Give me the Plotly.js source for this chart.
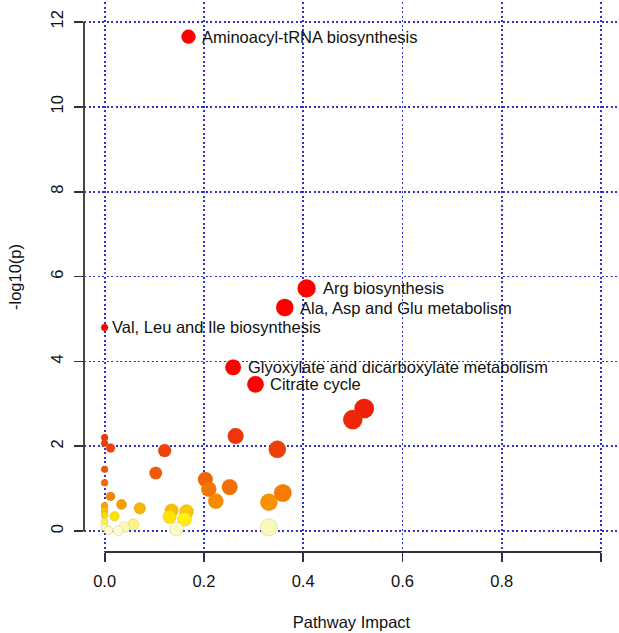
<!DOCTYPE html>
<html>
<head>
<meta charset="utf-8">
<script src="https://cdn.plot.ly/plotly-3.0.1.min.js"></script>
<style>html,body{margin:0;padding:0;background:#fff;}#chart{width:619px;height:633px;}</style>
</head>
<body>
<div id="chart"></div>
<script>
// Pathway impact (x) and -log10(p) (y), ordered by decreasing -log10(p)
const impact = [0.169, 0.407, 0.363, 0.0, 0.259, 0.304,
  0.523, 0.500, 0.264, 0.0, 0.0, 0.012, 0.348, 0.121, 0.0, 0.103,
  0.203, 0.0, 0.252, 0.210, 0.359, 0.012, 0.224, 0.331, 0.034, 0.0,
  0.071, 0.135, 0.0, 0.165, 0.0, 0.131, 0.020, 0.161, 0.0, 0.058,
  0.040, 0.331, 0.0, 0.145, 0.008, 0.028];
const logp = [11.65, 5.72, 5.27, 4.80, 3.86, 3.46,
  2.89, 2.63, 2.24, 2.21, 2.07, 1.96, 1.93, 1.90, 1.46, 1.37,
  1.22, 1.14, 1.04, 0.99, 0.90, 0.82, 0.71, 0.68, 0.63, 0.60,
  0.54, 0.49, 0.48, 0.46, 0.38, 0.34, 0.35, 0.28, 0.22, 0.16,
  0.10, 0.09, 0.09, 0.05, 0.02, 0.01];
const labels = ["Aminoacyl-tRNA biosynthesis", "Arg biosynthesis",
  "Ala, Asp and Glu metabolism", "Val, Leu and Ile biosynthesis",
  "Glyoxylate and dicarboxylate metabolism", "Citrate cycle"];
const xTickVals = [0, 0.2, 0.4, 0.6, 0.8, 1.0];
const xTickText = ["0.0", "0.2", "0.4", "0.6", "0.8", ""];
const yTickVals = [0, 2, 4, 6, 8, 10, 12];

const FONT = "Liberation Sans, Arial, sans-serif";
const sizes = impact.map(v => 7 + 17.5 * Math.sqrt(v));

const cmax = 3.5;
const stops = [[0, 'rgb(252,252,215)'], [0.1, 'rgb(250,250,180)'], [0.3, 'rgb(255,238,0)'],
  [0.5, 'rgb(250,190,0)'], [0.7, 'rgb(250,140,0)'], [1.0, 'rgb(245,115,5)'],
  [1.4, 'rgb(238,88,10)'], [2.0, 'rgb(238,62,10)'], [3.0, 'rgb(240,25,10)'], [3.5, 'rgb(255,0,0)']];
const colorscale = stops.map(s => [s[0] / cmax, s[1]]);

const trace = {
  x: impact, y: logp, type: 'scatter', mode: 'markers',
  marker: {
    size: sizes, opacity: 1, color: logp.map(v => Math.min(v, cmax)), cmin: 0, cmax: cmax,
    colorscale: colorscale, showscale: false,
    line: {color: 'rgba(170,120,0,0.3)', width: 0.7}
  },
  hoverinfo: 'skip'
};

const annotations = labels.map((t, i) => ({
  x: impact[i], y: logp[i], xref: 'x', yref: 'y', text: t, showarrow: false,
  xanchor: 'left', yanchor: 'middle', xshift: 1.5 * sizes[i] / 2 + 0.5,
  font: {family: FONT, size: 16.5, color: '#111'}
}));

const axisLine = {color: '#333', width: 1.8};
const shapes = [
  {type: 'line', xref: 'paper', yref: 'y', x0: 0, x1: 0, y0: 0, y1: 12, line: axisLine},
  {type: 'line', xref: 'x', yref: 'paper', x0: 0, x1: 1, y0: 0, y1: 0, line: axisLine}
];

const gridCommon = {
  showgrid: true, gridcolor: 'rgb(50,50,205)', gridwidth: 1.8, griddash: '2px,2.5px',
  zeroline: false, showline: false, ticks: 'outside', ticklen: 9, tickwidth: 1.8,
  tickcolor: '#333', tickfont: {family: FONT, size: 16.5, color: '#111'}
};

const layout = {
  width: 619, height: 633,
  margin: {l: 84, r: 0, t: 2, b: 81},
  paper_bgcolor: '#fff', plot_bgcolor: '#fff',
  showlegend: false,
  xaxis: Object.assign({}, gridCommon, {
    range: [-0.0415, 1.0363], tickmode: 'array', tickvals: xTickVals, ticktext: xTickText,
    ticklabelstandoff: 5,
    title: {text: 'Pathway Impact', font: {family: FONT, size: 16.5, color: '#111'}, standoff: 27}
  }),
  yaxis: Object.assign({}, gridCommon, {
    range: [-0.49, 12.467], tickmode: 'array', tickvals: yTickVals, tickangle: -90,
    ticklabelstandoff: 4,
    title: {text: '-log10(p)', font: {family: FONT, size: 16.5, color: '#111'}, standoff: 22}
  }),
  shapes: shapes,
  annotations: annotations
};

Plotly.newPlot('chart', [trace], layout, {displayModeBar: false, staticPlot: true});
</script>
</body>
</html>
